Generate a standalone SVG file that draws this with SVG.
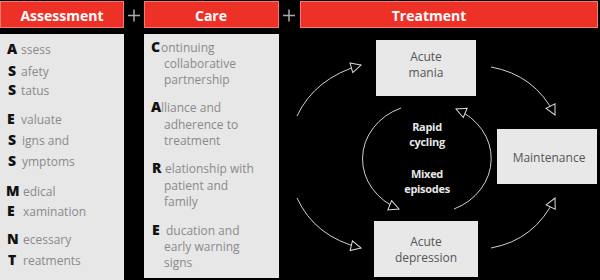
<svg xmlns="http://www.w3.org/2000/svg" width="600" height="280" viewBox="0 0 600 280">
<style>
.hdr{fill:#ee3127;stroke:#f37a72;stroke-width:1}
.ht{font-family:"Open Sans",sans-serif;font-weight:bold;font-size:14px;fill:#fff;text-anchor:middle}
.plus{stroke:#aaa;stroke-width:1.5}
.panel{fill:#e7e7e7}
.big{font-family:"Open Sans",sans-serif;font-weight:800;font-size:14px;fill:#111}
.sm{font-family:"Open Sans",sans-serif;font-size:12px;fill:#8a8a8a}
.node{fill:#e8e8e8}
.nt{font-family:"Open Sans",sans-serif;font-size:12px;fill:#555;text-anchor:middle}
.lt{font-family:"Open Sans",sans-serif;font-weight:bold;font-size:11px;fill:#e8e8e8;text-anchor:middle;letter-spacing:-0.3px}
.conn{fill:none;stroke:#d0d0d0;stroke-width:1;marker-end:url(#arr)}
</style>
<defs>
<marker id="arr" viewBox="0 0 12 12" refX="11" refY="6" markerWidth="12" markerHeight="12" markerUnits="userSpaceOnUse" orient="auto">
<path d="M1,1 L11,6 L1,11 z" fill="#000" stroke="#ddd" stroke-width="1"/>
</marker>
</defs>
<rect width="600" height="280" fill="#000"/>
<g id="header-assessment">
<rect class="hdr" x="0.5" y="1.5" width="123" height="26"/>
<text class="ht" x="62" y="21">Assessment</text>
</g>
<g id="plus1"><path class="plus" d="M128,15.5 H140 M134,9.5 V21.5"/></g>
<g id="header-care">
<rect class="hdr" x="144.5" y="1.5" width="134" height="26"/>
<text class="ht" x="211" y="21">Care</text>
</g>
<g id="plus2"><path class="plus" d="M283,15.5 H295 M289,9.5 V21.5"/></g>
<g id="header-treatment">
<rect class="hdr" x="300.5" y="1.5" width="297" height="26"/>
<text class="ht" x="429" y="21">Treatment</text>
</g>
<g id="panel-assessment">
<rect class="panel" x="0" y="34" width="124" height="246"/>
<text class="big" x="7" y="54">A</text><text class="sm" x="21" y="54">ssess</text>
<text class="big" x="8" y="76">S</text><text class="sm" x="21" y="76">afety</text>
<text class="big" x="8" y="95">S</text><text class="sm" x="21" y="95">tatus</text>
<text class="big" x="7" y="124">E</text><text class="sm" x="21" y="124">valuate</text>
<text class="big" x="8" y="145">S</text><text class="sm" x="22" y="145">igns and</text>
<text class="big" x="8" y="166">S</text><text class="sm" x="22" y="166">ymptoms</text>
<text class="big" x="6" y="196">M</text><text class="sm" x="23" y="196">edical</text>
<text class="big" x="7" y="216">E</text><text class="sm" x="23" y="216">xamination</text>
<text class="big" x="7" y="244">N</text><text class="sm" x="23" y="244">ecessary</text>
<text class="big" x="8" y="265">T</text><text class="sm" x="23" y="265">reatments</text>
</g>
<g id="panel-care">
<rect class="panel" x="144" y="34" width="135" height="244"/>
<text class="big" x="151" y="52">C</text><text class="sm" x="161" y="52">ontinuing</text>
<text class="sm" x="164" y="68">collaborative</text>
<text class="sm" x="164" y="84">partnership</text>
<text class="big" x="151" y="112">A</text><text class="sm" x="161" y="112">lliance and</text>
<text class="sm" x="164" y="129">adherence to</text>
<text class="sm" x="164" y="145">treatment</text>
<text class="big" x="152" y="173">R</text><text class="sm" x="165" y="173">elationship with</text>
<text class="sm" x="164" y="190">patient and</text>
<text class="sm" x="164" y="206">family</text>
<text class="big" x="152" y="235">E</text><text class="sm" x="166" y="235">ducation and</text>
<text class="sm" x="164" y="251">early warning</text>
<text class="sm" x="164" y="267">signs</text>
</g>
<g id="node-acute-mania">
<rect class="node" x="376" y="40" width="100" height="56"/>
<text class="nt" x="426" y="61">Acute</text>
<text class="nt" x="426" y="77">mania</text>
</g>
<g id="node-maintenance">
<rect class="node" x="497" y="129" width="100" height="55"/>
<text class="nt" x="549" y="162">Maintenance</text>
</g>
<g id="node-acute-depression">
<rect class="node" x="374" y="221" width="104" height="56"/>
<text class="nt" x="426" y="246">Acute</text>
<text class="nt" x="426" y="262">depression</text>
</g>
<g id="labels">
<text class="lt" x="427" y="131">Rapid</text>
<text class="lt" x="427" y="146">cycling</text>
<text class="lt" x="427" y="178">Mixed</text>
<text class="lt" x="427" y="193">episodes</text>
</g>
<g id="connectors">
<path class="conn" d="M297,116 Q315,78 361,65"/>
<path class="conn" d="M491,67 Q535,75 555,115"/>
<path class="conn" d="M297,198 Q315,237 361,248"/>
<path class="conn" d="M491,248 Q535,240 555,198"/>
<path class="conn" d="M401,108 A62 55 0 0 0 399,209"/>
<path class="conn" d="M454,209 A62 55 0 0 0 456,109"/>
</g>
</svg>
